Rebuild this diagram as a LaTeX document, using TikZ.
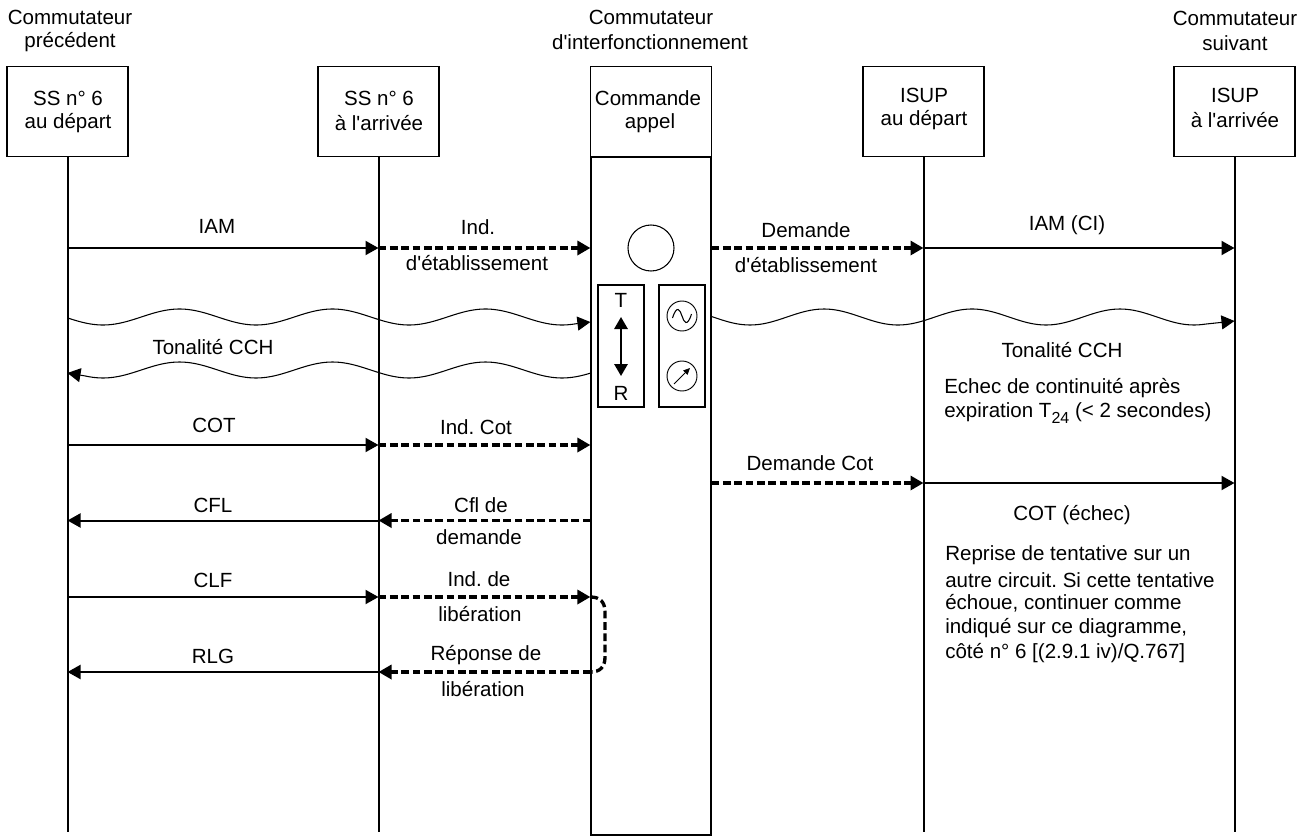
\documentclass[tikz,border=0pt]{standalone}
\usepackage{fontspec}
\setmainfont[Ligatures=TeXOff]{Liberation Sans}
\frenchspacing
\usetikzlibrary{arrows.meta}
\tikzset{
  px/.style={x=0.75pt,y=-0.75pt},
  actor/.style={draw=black,line width=0.9pt,fill=white,minimum width=90.75pt,minimum height=67.5pt,inner sep=0pt},
  column/.style={draw=black,line width=0.9pt,minimum width=90pt,minimum height=508.5pt,inner sep=0pt},
  panel/.style={draw=black,line width=0.8pt,minimum width=34.5pt,minimum height=91.5pt,inner sep=0pt},
  dial/.style={draw=black,line width=0.7pt,circle,minimum size=22.5pt,inner sep=0pt},
  lbl/.style={inner sep=0pt,align=center,font=\fontsize{15.4}{18}\selectfont},
  lblL/.style={inner sep=0pt,anchor=west,align=left,font=\fontsize{15.4}{18}\selectfont},
  life/.style={line width=1.5pt,black},
  tip/.style={-{Triangle[length=9.75pt,width=10.5pt]}},
  msg/.style={tip,line width=1.5pt,black},
  req/.style={tip,line width=2.5pt,black,dash pattern=on 5.8pt off 2.7pt},
  tone/.style={line width=0.8pt,black,-{Triangle[length=9.75pt,width=10.5pt]}},
}
\begin{document}
\begin{tikzpicture}[px]
\frenchspacing
\useasboundingbox (0,0) rectangle (1311,839);
% actors
\node[actor] (b1) at (67.5,111.5) {};
\node[actor] (b2) at (378.5,111.5) {};
\node[actor] (b3) at (651,111.5) {};
\node[actor] (b4) at (923.5,111.5) {};
\node[actor] (b5) at (1234.5,111.5) {};
\node[column] (col) at (651,496) {};
% row levels
\coordinate (bot) at (0,832);
\coordinate (r1) at (0,248);
\coordinate (r2) at (0,445);
\coordinate (r3) at (0,483);
\coordinate (r4) at (0,520.5);
\coordinate (r5) at (0,597);
\coordinate (r6) at (0,672);
\coordinate (colL) at (col.north west);
\coordinate (colR) at (col.north east);
% lifelines
\draw[life] (b1.south) -- (b1.south |- bot);
\draw[life] (b2.south) -- (b2.south |- bot);
\draw[life] (b4.south) -- (b4.south |- bot);
\draw[life] (b5.south) -- (b5.south |- bot);
% inner parts
\node[draw=black,line width=0.8pt,circle,minimum size=34.5pt,inner sep=0pt] (ring) at (651,248) {};
\node[panel] (pT) at (621,346) {};
\node[panel] (pG) at (682,346) {};
\node[dial] (gen) at (682,316) {};
\node[dial] (met) at (682,376) {};
\draw[line width=0.8pt] (672.5,318) .. controls (677,304) and (680,310) .. (682,316) .. controls (684,322) and (687,328) .. (691.5,314);
\coordinate (mA) at (674,384);
\coordinate (mB) at (690,368);
\draw[line width=0.6pt,-{Triangle[length=5pt,width=4.5pt]}] (mA) -- (mB);
\node[lbl] (tT) at (621,300) {T};
\node[lbl] (tR) at (621,393) {R};
\draw[line width=1.5pt,{Triangle[length=9pt,width=10pt]}-{Triangle[length=9pt,width=10pt]}] (tT.south |- 0,317) -- (tR.north |- 0,376);
% messages row 1
\draw[msg] (b1.south |- r1) -- (b2.south |- r1);
\draw[req] (b2.south |- r1) -- (colL |- r1);
\draw[req] (colR |- r1) -- (b4.south |- r1);
\draw[msg] (b4.south |- r1) -- (b5.south |- r1);
% tones
\draw[tone] plot[domain=68:575,samples=140,smooth] ({\x},{317+8*cos((\x-103)/153*360)}) -- (colL |- 0,322);
\draw[tone] plot[domain=711:1205,samples=140,smooth] ({\x},{317+8*cos((\x-750)/148*360)}) -- (b5.south |- 0,321);
\draw[tone] plot[domain=591:85,samples=140,smooth] ({\x},{370+8*cos((\x-103)/153*360)}) -- (b1.south |- 0,373);
% other messages
\draw[msg] (b1.south |- r2) -- (b2.south |- r2);
\draw[req] (b2.south |- r2) -- (colL |- r2);
\draw[req] (colR |- r3) -- (b4.south |- r3);
\draw[msg] (b4.south |- r3) -- (b5.south |- r3);
\draw[req] (colL |- r4) -- (b2.south |- r4);
\draw[msg] (b2.south |- r4) -- (b1.south |- r4);
\draw[msg] (b1.south |- r5) -- (b2.south |- r5);
\draw[req] (b2.south |- r5) -- (colL |- r5);
\draw[req] (colL |- r6) -- (b2.south |- r6);
\draw[msg] (b2.south |- r6) -- (b1.south |- r6);
% loop
\draw[line width=2.5pt,black,dash pattern=on 5.8pt off 2.7pt] (colL |- r5) .. controls (600,597) and (605,602) .. (605,612) -- (605,657) .. controls (605,667) and (600,672) .. (colL |- r6);
% headers
\node[lbl] (h1a) at (70,17) {Commutateur};
\node[lbl] (h1b) at (70,42) {précédent};
\node[lbl] (h3a) at (651,17) {Commutateur};
\node[lbl] (h3b) at (650,42) {d'interfonctionnement};
\node[lbl] (h5a) at (1235,18) {Commutateur};
\node[lbl] (h5b) at (1235,43) {suivant};
% box texts
\node[lbl] (t1a) at (68,98) {SS n° 6};
\node[lbl] (t1b) at (68,123) {au départ};
\node[lbl] (t2a) at (379,98) {SS n° 6};
\node[lbl] (t2b) at (379,123) {à l'arrivée};
\node[lbl] (t3a) at (648,98) {Commande};
\node[lbl] (t3b) at (650,123) {appel};
\node[lbl] (t4a) at (924,95) {ISUP};
\node[lbl] (t4b) at (924,120) {au départ};
\node[lbl] (t5a) at (1235,95) {ISUP};
\node[lbl] (t5b) at (1235,120) {à l'arrivée};
% labels
\node[lbl] (l1) at (217,226) {IAM};
\node[lbl] (l2) at (478,227) {Ind.};
\node[lbl] (l3) at (477,263) {d'établissement};
\node[lbl] (l4) at (806,230) {Demande};
\node[lbl] (l5) at (806,265) {d'établissement};
\node[lbl] (l6) at (1067,225) {IAM (CI)};
\node[lbl] (l7) at (213,347) {Tonalité CCH};
\node[lbl] (l8) at (1062,350) {Tonalité CCH};
\node[lblL] (l9) at (944,388) {Echec de continuité après};
\node[lblL] (l10) at (944,413) {expiration T\raisebox{-5pt}{\fontsize{12}{14}\selectfont 24} (< 2 secondes)};
\node[lbl] (l11) at (214,425) {COT};
\node[lbl] (l12) at (476,427) {Ind. Cot};
\node[lbl] (l13) at (810,463) {Demande Cot};
\node[lbl] (l14) at (1072,515) {COT (échec)};
\node[lblL] (l15) at (945,555) {Reprise de tentative sur un};
\node[lblL] (l16) at (945,580) {autre circuit. Si cette tentative};
\node[lblL] (l17) at (945,603) {échoue, continuer comme};
\node[lblL] (l18) at (945,628) {indiqué sur ce diagramme,};
\node[lblL] (l19) at (945,653) {côté n° 6 [(2.9.1 iv)/Q.767]};
\node[lbl] (l20) at (213,505) {CFL};
\node[lbl] (l21) at (481,505) {Cfl de};
\node[lbl] (l22) at (479,537) {demande};
\node[lbl] (l23) at (213,580) {CLF};
\node[lbl] (l24) at (479,579) {Ind. de};
\node[lbl] (l25) at (480,614) {libération};
\node[lbl] (l26) at (213,656) {RLG};
\node[lbl] (l27) at (486,655) {Réponse de};
\node[lbl] (l28) at (483,689) {libération};
\end{tikzpicture}
\end{document}
